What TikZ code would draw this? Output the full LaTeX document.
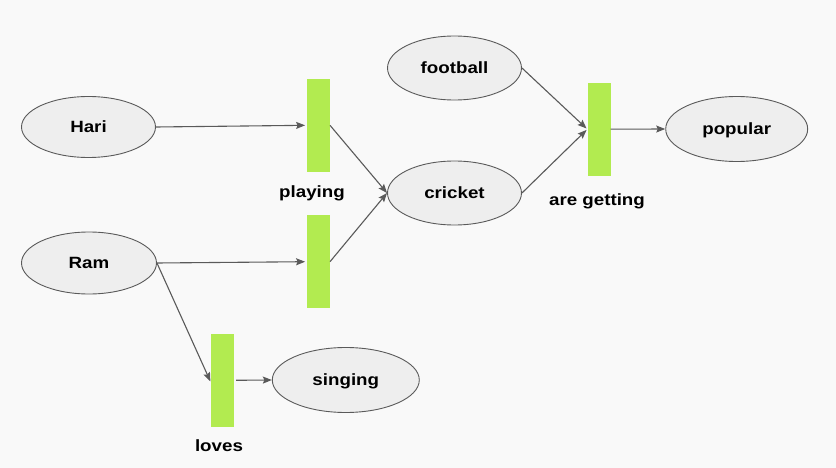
\documentclass[tikz,border=0pt]{standalone}
\usepackage{fontspec}
\setmainfont{Liberation Sans}
\newfontfamily\lblfont[FakeStretch=1.15]{Liberation Sans}
\usetikzlibrary{arrows.meta,shapes.geometric}
\definecolor{bg}{HTML}{F9F9F9}
\definecolor{ellfill}{HTML}{EEEEEE}
\definecolor{edge}{HTML}{5A5A5A}
\definecolor{barg}{HTML}{B2EB50}
\tikzset{
  concept/.style={ellipse, draw=edge, line width=0.9pt, fill=ellfill, inner sep=0pt,
    text height=11.5pt, text depth=0pt,
    font=\lblfont\bfseries\fontsize{16.3}{19}\selectfont, text=black},
  relbar/.style={rectangle, fill=barg, draw=none, minimum width=23pt, minimum height=93pt, inner sep=0pt},
  rellabel/.style={font=\lblfont\bfseries\fontsize{16.3}{19}\selectfont, text=black, inner sep=0pt,
    text height=11.5pt, text depth=0pt},
  conn/.style={draw=edge, line width=1.1pt, -{Stealth[length=9pt,width=7pt,inset=1.5pt]}}
}
\begin{document}
\begin{tikzpicture}[x=1pt,y=-1pt]
\fill[bg] (0,0) rectangle (836,468);
\useasboundingbox (0,0) rectangle (836,468);

\node[concept, minimum width=134pt, minimum height=61pt] (hari) at (88.5,127) {Hari};
\node[concept, minimum width=135pt, minimum height=62pt] (ram) at (89,263) {Ram};
\node[concept, minimum width=134pt, minimum height=64pt] (football) at (454.5,68) {football};
\node[concept, minimum width=134pt, minimum height=64pt] (cricket) at (454.5,193) {cricket};
\node[concept, minimum width=142pt, minimum height=65pt] (popular) at (736.7,129) {popular};
\node[concept, minimum width=147pt, minimum height=65pt] (singing) at (345.8,380) {singing};

\node[relbar] (bar1) at (318.3,125.3) {};
\node[relbar] (bar2) at (318.3,261.7) {};
\node[relbar] (bar3) at (599,129.2) {};
\node[relbar] (bar4) at (222.5,380.3) {};

\node[rellabel] (lplaying) at (312,191.3) {playing};
\node[rellabel] (lgetting) at (597,199.3) {are getting};
\node[rellabel] (lloves) at (219,446) {loves};

\draw[conn, shorten >=1.5pt] (hari.east) -- (bar1.west);
\draw[conn, shorten >=1.5pt] (ram.east) -- (bar2.west);
\draw[conn] (bar1.east) -- (cricket.west);
\draw[conn] (bar2.east) -- (cricket.west);
\draw[conn, shorten >=1pt] (ram.east) -- ([yshift=-2pt]bar4.west);
\draw[conn, shorten <=2pt] (bar4.east) -- (singing.west);
\draw[conn, shorten >=1pt] (football.east) -- (bar3.west);
\draw[conn, shorten >=1pt] (cricket.east) -- (bar3.west);
\draw[conn] (bar3.east) -- (popular.west);
\end{tikzpicture}
\end{document}
